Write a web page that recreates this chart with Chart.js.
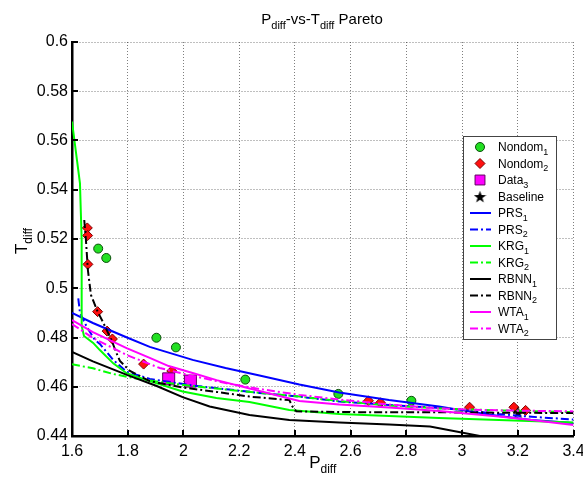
<!DOCTYPE html>
<html>
<head>
<meta charset="utf-8">
<script src="https://cdn.jsdelivr.net/npm/chart.js@4.4.0/dist/chart.umd.min.js"></script>
<style>
  html, body { margin: 0; padding: 0; background: #fff; }
</style>
</head>
<body>
<canvas id="pareto" width="583" height="481"></canvas>
<script>
// axis ticks
const xTicks = [1.6, 1.8, 2, 2.2, 2.4, 2.6, 2.8, 3, 3.2, 3.4];
const xTickLabels = ['1.6', '1.8', '2', '2.2', '2.4', '2.6', '2.8', '3', '3.2', '3.4'];
const yTicks = [0.44, 0.46, 0.48, 0.5, 0.52, 0.54, 0.56, 0.58, 0.6];
const yTickLabels = ['0.44', '0.46', '0.48', '0.5', '0.52', '0.54', '0.56', '0.58', '0.6'];

// scatter points [Pdiff, Tdiff]
const nondom1 = [[1.694, 0.5161], [1.723, 0.5123], [1.903, 0.4799], [1.973, 0.4760], [2.222, 0.4629], [2.556, 0.4571], [2.818, 0.4543]];
const nondom2 = [[1.655, 0.5245], [1.656, 0.5214], [1.657, 0.5097], [1.692, 0.4905], [1.726, 0.4826], [1.745, 0.4794], [1.857, 0.4692],
                 [1.958, 0.4664], [2.664, 0.4543], [2.707, 0.4535], [3.027, 0.4517], [3.186, 0.4517], [3.228, 0.4504]];
const data3 = [[1.947, 0.4632], [2.025, 0.4623]];
const baseline = [[3.201, 0.4497]];

// fronts
const prs1 = [[1.6, 0.4900], [1.675, 0.4859], [1.793, 0.4802], [1.879, 0.4762], [2.033, 0.4709], [2.151, 0.4676], [2.273, 0.4646],
              [2.416, 0.4609], [2.559, 0.4577], [2.738, 0.4546], [2.917, 0.4520], [3.014, 0.4502], [3.132, 0.4481], [3.250, 0.4465], [3.4, 0.4453]];
const prs2 = [[1.6225, 0.4959], [1.6286, 0.4900], [1.6526, 0.4844], [1.6823, 0.4790], [1.700, 0.4774], [1.748, 0.4709], [1.796, 0.4661],
              [1.879, 0.4632], [2.033, 0.4605], [2.273, 0.4575], [2.416, 0.4560], [2.559, 0.4540], [2.738, 0.4526], [2.917, 0.4514],
              [3.014, 0.4504], [3.132, 0.4489], [3.250, 0.4478], [3.4, 0.4467]];
const krg1 = [[1.6, 0.5677], [1.6286, 0.5426], [1.6347, 0.5196], [1.6347, 0.4847], [1.643, 0.4806], [1.676, 0.4778], [1.700, 0.4749],
              [1.748, 0.4695], [1.796, 0.4655], [1.879, 0.4623], [1.997, 0.4581], [2.118, 0.4554], [2.237, 0.4538], [2.380, 0.4506],
              [2.559, 0.4489], [2.738, 0.4481], [2.917, 0.4473], [3.132, 0.4465], [3.4, 0.4455]];
const krg2 = [[1.6, 0.4691], [1.675, 0.4675], [1.747, 0.4652], [1.818, 0.4636], [1.915, 0.4619], [2.033, 0.4603], [2.151, 0.4589],
              [2.273, 0.4575], [2.416, 0.4560], [2.559, 0.4542], [2.738, 0.4524], [2.917, 0.4512], [3.132, 0.4504], [3.4, 0.4497]];
const rbnn1 = [[1.6, 0.4741], [1.675, 0.4703], [1.797, 0.4648], [1.904, 0.4603], [1.997, 0.4558], [2.094, 0.4520], [2.237, 0.4485],
               [2.380, 0.4465], [2.559, 0.4455], [2.738, 0.4447], [2.885, 0.4439], [3.064, 0.4400]];
const rbnn2 = [[1.644, 0.5277], [1.650, 0.5196], [1.657, 0.5074], [1.668, 0.4973], [1.692, 0.4905], [1.711, 0.4863], [1.726, 0.4827],
               [1.743, 0.4786], [1.758, 0.4741], [1.772, 0.4705], [1.808, 0.4664], [1.879, 0.4623], [1.997, 0.4597], [2.119, 0.4579],
               [2.237, 0.4560], [2.380, 0.4546], [2.391, 0.4520], [2.405, 0.4500], [2.595, 0.4497], [2.953, 0.4496], [3.4, 0.4493]];
const wta1 = [[1.6, 0.4871], [1.675, 0.4822], [1.796, 0.4757], [1.879, 0.4717], [1.947, 0.4684], [2.033, 0.4656], [2.119, 0.4627],
              [2.273, 0.4583], [2.416, 0.4542], [2.559, 0.4528], [2.738, 0.4516], [2.917, 0.4502], [3.014, 0.4491], [3.132, 0.4479],
              [3.250, 0.4465], [3.4, 0.4445]];
const wta2 = [[1.6, 0.4855], [1.675, 0.4798], [1.796, 0.4729], [1.915, 0.4676], [2.033, 0.4644], [2.151, 0.4615], [2.273, 0.4591],
              [2.416, 0.4567], [2.559, 0.4548], [2.738, 0.4528], [2.917, 0.4512], [3.014, 0.4508], [3.132, 0.4504], [3.4, 0.4500]];

const FONT = '"Liberation Sans", Arial, sans-serif';
const dashDot = [8, 3, 2, 3];
const toXY = arr => arr.map(([x, y]) => ({ x, y }));

// filled five point star for the baseline marker
function makeStar(size) {
    const c = document.createElement('canvas');
    c.width = c.height = size;
    const g = c.getContext('2d');
    g.fillStyle = '#000';
    g.beginPath();
    for (let i = 0; i < 10; i++) {
        const r = i % 2 ? size * 0.2 : size * 0.5;
        const a = -Math.PI / 2 + i * Math.PI / 5;
        g.lineTo(size / 2 + r * Math.cos(a), size * 0.55 + r * Math.sin(a));
    }
    g.closePath();
    g.fill();
    return c;
}
const starImg = makeStar(13);

const markerSet = (label, data, style, radius, fill, edge) => ({
    label, data: toXY(data), showLine: false, pointStyle: style, pointRadius: radius,
    pointHoverRadius: radius, backgroundColor: fill, borderColor: edge, borderWidth: 1
});
const lineSet = (label, data, color, dash) => ({
    label, data: toXY(data), showLine: true, borderColor: color, backgroundColor: color,
    borderWidth: 2, borderDash: dash, pointRadius: 0, tension: 0, fill: false
});

const datasets = [
    markerSet('Nondom_1', nondom1, 'circle', 4.5, '#22e022', '#0b4d0b'),
    markerSet('Nondom_2', nondom2, 'rectRot', 5, '#ff1010', '#7a0000'),
    markerSet('Data_3', data3, 'rect', 8.5, '#ff00ff', '#600060'),
    markerSet('Baseline', baseline, starImg, 6, '#000', '#000'),
    lineSet('PRS_1', prs1, '#0000ff', []),
    lineSet('PRS_2', prs2, '#0000ff', dashDot),
    lineSet('KRG_1', krg1, '#00ff00', []),
    lineSet('KRG_2', krg2, '#00ff00', dashDot),
    lineSet('RBNN_1', rbnn1, '#000000', []),
    lineSet('RBNN_2', rbnn2, '#000000', dashDot),
    lineSet('WTA_1', wta1, '#ff00ff', []),
    lineSet('WTA_2', wta2, '#ff00ff', dashDot)
];
// later series on top, like the original plot
datasets.forEach((d, i) => { d.order = datasets.length - i; });

// text with an optional subscript part, "P_diff" -> P + sub(diff)
function drawSubText(ctx, text, x, y, size, align) {
    const [main, sub] = text.split('_');
    const subSize = Math.round(size * 0.72);
    ctx.font = size + 'px ' + FONT;
    const w1 = ctx.measureText(main).width;
    ctx.font = subSize + 'px ' + FONT;
    const w2 = sub ? ctx.measureText(sub).width : 0;
    let x0 = x;
    if (align === 'center') x0 = x - (w1 + w2) / 2;
    ctx.textAlign = 'left';
    ctx.textBaseline = 'alphabetic';
    ctx.font = size + 'px ' + FONT;
    ctx.fillText(main, x0, y);
    if (sub) {
        ctx.font = subSize + 'px ' + FONT;
        ctx.fillText(sub, x0 + w1, y + size * 0.3);
    }
}

// sequence of pieces for the title line
function drawPieces(ctx, pieces, cx, y, size) {
    const subSize = Math.round(size * 0.72);
    let total = 0;
    pieces.forEach(([t, isSub]) => {
        ctx.font = (isSub ? subSize : size) + 'px ' + FONT;
        total += ctx.measureText(t).width;
    });
    let x = cx - total / 2;
    ctx.textAlign = 'left';
    ctx.textBaseline = 'alphabetic';
    pieces.forEach(([t, isSub]) => {
        ctx.font = (isSub ? subSize : size) + 'px ' + FONT;
        ctx.fillText(t, x, isSub ? y + size * 0.3 : y);
        x += ctx.measureText(t).width;
    });
}

const decorations = {
    id: 'decorations',
    afterDraw(chart) {
        const { ctx, chartArea: a, scales } = chart;
        ctx.save();

        // inward tick marks
        ctx.strokeStyle = '#000';
        ctx.lineWidth = 2;
        ctx.setLineDash([]);
        ctx.beginPath();
        xTicks.forEach(v => {
            const px = Math.round(scales.x.getPixelForValue(v));
            ctx.moveTo(px, a.bottom);
            ctx.lineTo(px, a.bottom - 6);
        });
        yTicks.forEach(v => {
            const py = Math.round(scales.y.getPixelForValue(v));
            ctx.moveTo(a.left, py);
            ctx.lineTo(a.left + 6, py);
        });
        ctx.stroke();

        // titles
        ctx.fillStyle = '#000';
        drawPieces(ctx, [['P', false], ['diff', true], ['-vs-T', false], ['diff', true], [' Pareto', false]], 322, 24, 15);
        drawSubText(ctx, 'P_diff', (a.left + a.right) / 2, 468, 17, 'center');
        ctx.save();
        ctx.translate(27, (a.top + a.bottom) / 2 + 2);
        ctx.rotate(-Math.PI / 2);
        drawSubText(ctx, 'T_diff', 0, 0, 17, 'center');
        ctx.restore();

        // legend
        const lx = 463, ly = 136, lw = 93, lh = 203, rowH = 16.5;
        ctx.fillStyle = '#fff';
        ctx.fillRect(lx, ly, lw, lh);
        ctx.strokeStyle = '#444';
        ctx.lineWidth = 1;
        ctx.strokeRect(lx + 0.5, ly + 0.5, lw, lh);
        chart.data.datasets.forEach((ds, i) => {
            const y = ly + 11 + i * rowH;
            if (ds.showLine) {
                ctx.strokeStyle = ds.borderColor;
                ctx.lineWidth = 2;
                ctx.setLineDash(ds.borderDash);
                ctx.beginPath();
                ctx.moveTo(470, y);
                ctx.lineTo(491, y);
                ctx.stroke();
                ctx.setLineDash([]);
            } else {
                ctx.fillStyle = ds.backgroundColor;
                ctx.strokeStyle = ds.borderColor;
                ctx.lineWidth = 1;
                const r = ds.pointStyle === 'rect' ? 7 : ds.pointRadius;
                Chart.helpers.drawPoint(ctx, { pointStyle: ds.pointStyle, radius: r, rotation: 0, borderWidth: 1 }, 480, y);
            }
            ctx.fillStyle = '#000';
            drawSubText(ctx, ds.label, 498, y + 4, 12, 'left');
        });
        ctx.restore();
    }
};

new Chart(document.getElementById('pareto'), {
    type: 'scatter',
    data: { datasets },
    options: {
        responsive: false,
        animation: false,
        events: [],
        layout: { padding: { top: 42, right: 8, left: 0, bottom: 0 } },
        plugins: { legend: { display: false }, title: { display: false }, tooltip: { enabled: false } },
        scales: {
            x: {
                type: 'linear', min: 1.6, max: 3.4,
                afterBuildTicks: s => { s.ticks = xTicks.map(v => ({ value: v })); },
                afterFit: s => { s.height = 45; s.paddingLeft = 0; s.paddingRight = 0; },
                ticks: { callback: (v, i) => xTickLabels[i], color: '#000', font: { family: FONT, size: 16 }, padding: 6, maxRotation: 0, autoSkip: false },
                grid: { color: 'rgba(0,0,0,0.5)', lineWidth: 1, drawTicks: false },
                border: { display: true, color: '#000', width: 2.5, dash: [1, 2] }
            },
            y: {
                type: 'linear', min: 0.44, max: 0.6,
                afterBuildTicks: s => { s.ticks = yTicks.map(v => ({ value: v })); },
                afterFit: s => { s.width = 72; s.paddingTop = 0; s.paddingBottom = 0; },
                ticks: { callback: (v, i) => yTickLabels[i], color: '#000', font: { family: FONT, size: 16 }, padding: 4, autoSkip: false },
                grid: { color: 'rgba(0,0,0,0.5)', lineWidth: 1, drawTicks: false },
                border: { display: true, color: '#000', width: 2.5, dash: [1, 2] }
            }
        }
    },
    plugins: [decorations]
});
</script>
</body>
</html>
